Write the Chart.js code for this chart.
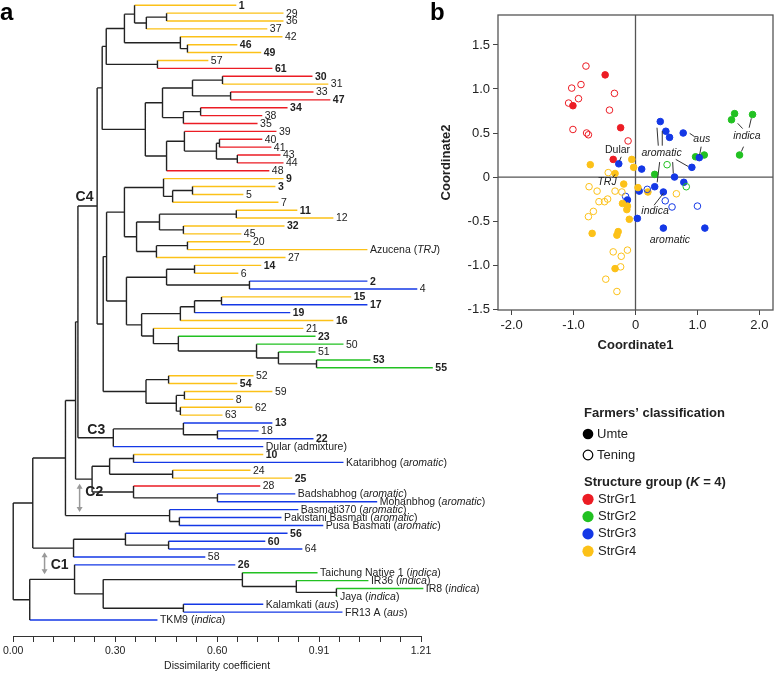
<!DOCTYPE html>
<html>
<head>
<meta charset="utf-8">
<script src="https://cdn.jsdelivr.net/npm/chart.js@4.4.0/dist/chart.umd.min.js"></script>
<style>
    html, body { margin: 0; padding: 0; background: #fff; }
    #wrap { position: relative; width: 778px; height: 674px; }
    #wrap canvas { position: absolute; left: 0; top: 0; }
</style>
</head>
<body>
<div id="wrap">
    <canvas id="tree" width="778" height="674"></canvas>
    <canvas id="pcoa" width="778" height="674"></canvas>
</div>
<script>
// ---- panel a: dendrogram leaves, top to bottom (*...* = italic) ----
var leafNames = ['1', '29', '36', '37', '42', '46', '49', '57', '61', '30', '31', '33', '47', '34', '38', '35',
    '39', '40', '41', '43', '44', '48', '9', '3', '5', '7', '11', '12', '32', '45', '20', 'Azucena (*TRJ*)', '27',
    '14', '6', '2', '4', '15', '17', '19', '16', '21', '23', '50', '51', '53', '55', '52', '54', '59', '8', '62',
    '63', '13', '18', '22', 'Dular (admixture)', '10', 'Kataribhog (*aromatic*)', '24', '25', '28',
    'Badshabhog (*aromatic*)', 'Mohanbhog (*aromatic*)', 'Basmati370 (*aromatic*)', 'Pakistani Basmati (*aromatic*)',
    'Pusa Basmati (*aromatic*)', '56', '60', '64', '58', '26', 'Taichung Native 1 (*indica*)', 'IR36 (*indica*)',
    'IR8 (*indica*)', 'Jaya (*indica*)', 'Kalamkati (*aus*)', 'FR13 A (*aus*)', 'TKM9 (*indica*)'];

// structure group of each leaf (1..4)
var leafGroup = [4, 4, 4, 4, 4, 4, 4, 4, 1, 1, 4, 1, 1, 1, 1, 1, 1, 1, 1, 1, 1, 1,
    4, 4, 4, 4, 4, 4, 4, 4, 4, 4, 4, 4, 4, 3, 3, 4, 3, 3, 4, 4, 2, 2, 2, 2, 2,
    4, 4, 4, 4, 4, 4, 3, 3, 3, 3, 4, 3, 4, 4, 1, 3, 3, 3, 3, 3, 3, 3, 3, 3, 3, 2, 2, 2, 2, 3, 3, 3];

// dissimilarity at the tip of each leaf branch
var leafTip = [0.662, 0.802, 0.802, 0.754, 0.799, 0.665, 0.736, 0.579, 0.769, 0.888, 0.935, 0.891, 0.941,
    0.814, 0.739, 0.725, 0.781, 0.739, 0.766, 0.793, 0.802, 0.760, 0.802, 0.778, 0.683, 0.787, 0.843, 0.950,
    0.805, 0.677, 0.704, 1.051, 0.808, 0.736, 0.668, 1.051, 1.199, 1.003, 1.051, 0.822, 0.950, 0.861, 0.897,
    0.980, 0.897, 1.060, 1.245, 0.713, 0.665, 0.769, 0.653, 0.710, 0.621, 0.769, 0.728, 0.891, 0.742, 0.742,
    0.980, 0.704, 0.828, 0.733, 0.837, 1.080, 0.846, 0.796, 0.920, 0.814, 0.748, 0.858, 0.570, 0.659, 0.903,
    1.054, 1.217, 0.962, 0.742, 0.977, 0.428];

// accessions shown in bold (Umte)
var umteLeaves = ['1', '46', '49', '61', '30', '47', '34', '9', '3', '11', '32', '14', '2', '15', '17', '19', '16',
    '23', '53', '55', '54', '13', '22', '10', '25', '56', '60', '26'];

// merges: [child, child, dissimilarity]; numbers are leaves, 'mK' is merge K
var merges = [
    [1, 2, 0.455], ['m0', 3, 0.395], [0, 'm1', 0.360], [5, 6, 0.517], [4, 'm3', 0.496],
    ['m2', 'm4', 0.330], [7, 8, 0.428], ['m5', 'm6', 0.276], [9, 10, 0.621], [11, 12, 0.645],
    ['m8', 'm9', 0.532], [13, 14, 0.556], ['m11', 15, 0.505], ['m10', 'm12', 0.443], [17, 18, 0.612],
    [19, 20, 0.665], ['m14', 'm15', 0.603], [16, 'm16', 0.508], ['m17', 21, 0.455], ['m13', 'm18', 0.392],
    ['m7', 'm19', 0.264], [23, 24, 0.532], ['m21', 25, 0.473], [22, 'm22', 0.446], [26, 27, 0.662],
    [28, 29, 0.505], ['m24', 'm25', 0.434], [30, 31, 0.517], ['m27', 32, 0.425], ['m26', 'm28', 0.366],
    ['m23', 'm29', 0.330], [33, 34, 0.538], [35, 36, 0.701], ['m31', 'm32', 0.455], [37, 38, 0.618],
    ['m34', 39, 0.538], ['m35', 40, 0.496], [45, 46, 0.900], [44, 'm37', 0.787], [43, 'm38', 0.722],
    [42, 'm39', 0.490], [41, 'm40', 0.416], ['m36', 'm41', 0.381], ['m33', 'm42', 0.336], ['m30', 'm43', 0.277],
    [47, 48, 0.461], [49, 50, 0.508], [51, 52, 0.496], ['m46', 'm47', 0.484], ['m45', 'm48', 0.394],
    ['m44', 'm49', 0.267], ['m20', 'm50', 0.249], [54, 55, 0.606], [53, 'm52', 0.505], ['m53', 56, 0.297],
    ['m51', 'm54', 0.192], [57, 58, 0.357], [59, 60, 0.473], ['m56', 'm57', 0.286], [62, 63, 0.606],
    [61, 'm59', 0.357], ['m58', 'm60', 0.234], ['m55', 'm61', 0.185], [65, 66, 0.493], [64, 'm63', 0.464],
    ['m62', 'm64', 0.155], [68, 69, 0.461], [67, 'm66', 0.333], ['m67', 70, 0.179], ['m65', 'm68', 0.058],
    [74, 75, 0.959], [73, 'm70', 0.840], [72, 'm71', 0.680], [76, 77, 0.505], ['m72', 'm73', 0.267],
    [71, 'm74', 0.182], ['m75', 78, 0.049], ['m69', 'm76', 0.000]
];

var dissTicks = [0, 0.0605, 0.121, 0.1815, 0.242, 0.3025, 0.363, 0.4235, 0.484, 0.5445, 0.605, 0.6655,
    0.726, 0.7865, 0.847, 0.9075, 0.968, 1.0285, 1.089, 1.1495, 1.21];
var dissLabels = ['0.00', '0.30', '0.60', '0.91', '1.21'];

// clade labels and arrows [text, dissimilarity, leaf position]
var cladeLabels = [['C4', 0.185, 24.3], ['C3', 0.220, 53.9], ['C2', 0.214, 61.8], ['C1', 0.111, 71.0]];
var cladeArrows = [[0.197, 60.7, 64.3], [0.093, 69.4, 72.2]];

// ---- panel b: PCoA, [Coordinate1, Coordinate2] ----
var gr1Umte = [[-0.49, 1.16], [-1.01, 0.81], [-0.24, 0.56], [-0.36, 0.20]];
var gr1Tening = [[-0.80, 1.26], [-1.03, 1.01], [-0.88, 1.05], [-0.92, 0.89], [-0.34, 0.95], [-1.08, 0.84],
    [-0.42, 0.76], [-1.01, 0.54], [-0.79, 0.50], [-0.76, 0.48], [-0.12, 0.41]];
var gr2Umte = [[0.97, 0.23], [1.11, 0.25], [0.31, 0.03], [1.60, 0.72], [1.55, 0.65], [1.89, 0.71], [1.68, 0.25]];
var gr2Tening = [[0.51, 0.14], [0.82, -0.11]];
var gr3Umte = [[-0.27, 0.15], [0.10, 0.09], [0.40, 0.63], [0.49, 0.52], [0.55, 0.45], [0.77, 0.50], [1.03, 0.22],
    [0.91, 0.11], [0.63, 0.0], [0.06, -0.16], [0.31, -0.11], [0.45, -0.17], [0.78, -0.06], [1.12, -0.58],
    [0.45, -0.58], [0.03, -0.47], [-0.13, -0.26]];
var gr3Tening = [[-0.16, -0.22], [0.19, -0.14], [0.48, -0.27], [0.59, -0.34], [1.00, -0.33]];
var gr4Umte = [[-0.73, 0.14], [-0.06, 0.20], [-0.03, 0.11], [-0.33, 0.04], [-0.19, -0.08], [0.04, -0.12],
    [0.20, -0.17], [-0.21, -0.30], [-0.13, -0.33], [-0.14, -0.37], [-0.10, -0.48], [-0.70, -0.64],
    [-0.28, -0.62], [-0.30, -0.66], [-0.33, -1.04]];
var gr4Tening = [[-0.44, 0.05], [-0.75, -0.11], [-0.62, -0.16], [-0.33, -0.16], [-0.22, -0.17], [0.66, -0.19],
    [-0.59, -0.28], [-0.50, -0.28], [-0.45, -0.25], [-0.68, -0.39], [-0.76, -0.45], [-0.13, -0.83],
    [-0.36, -0.85], [-0.23, -0.90], [-0.24, -1.02], [-0.48, -1.16], [-0.30, -1.30]];

var coordXTicks = [-2, -1, 0, 1, 2];
var coordXLabels = ['-2.0', '-1.0', '0', '1.0', '2.0'];
var coordYTicks = [-1.5, -1, -0.5, 0, 0.5, 1, 1.5];
var coordYLabels = ['-1.5', '-1.0', '-0.5', '0', '0.5', '1.0', '1.5'];

// annotations [text, x, y, italic] and leader lines [x1, y1, x2, y2]
var pcoaNotes = [['Dular', -0.29, 0.31, false], ['TRJ', -0.46, -0.06, true], ['aromatic', 0.42, 0.27, true],
    ['aus', 1.07, 0.43, true], ['indica', 1.80, 0.47, true], ['indica', 0.315, -0.39, true],
    ['aromatic', 0.555, -0.72, true]];
var pcoaLeaders = [[-0.23, 0.23, -0.26, 0.18], [-0.37, -0.01, -0.33, 0.03], [0.347, 0.56, 0.368, 0.356],
    [0.432, 0.523, 0.432, 0.356], [0.65, 0.20, 0.85, 0.12], [0.60, 0.17, 0.61, 0.04], [0.39, 0.17, 0.35, -0.06],
    [0.875, 0.496, 0.955, 0.458], [1.06, 0.345, 1.035, 0.25], [1.65, 0.61, 1.73, 0.55],
    [1.87, 0.667, 1.835, 0.56], [1.744, 0.345, 1.71, 0.29], [0.30, -0.32, 0.45, -0.185]];

var groupNames = ['StrGr1', 'StrGr2', 'StrGr3', 'StrGr4'];
var groupColors = ['#ec1c24', '#22c122', '#1438e6', '#fcc118'];

var FONT = '"Liberation Sans", Arial, Helvetica, sans-serif';
Chart.defaults.font.family = FONT;
Chart.defaults.color = '#222';

// text with *italic* pieces
function drawRich(c, text, x, y, size, bold, align) {
    var parts = text.split('*');
    var w = 0, k;
    if (align === 'center') {
        for (k = 0; k < parts.length; k++) {
            c.font = (k % 2 ? 'italic ' : '') + (bold ? 'bold ' : '') + size + 'px ' + FONT;
            w += c.measureText(parts[k]).width;
        }
        x -= w / 2;
    }
    c.textAlign = 'left';
    for (k = 0; k < parts.length; k++) {
        c.font = (k % 2 ? 'italic ' : '') + (bold ? 'bold ' : '') + size + 'px ' + FONT;
        c.fillText(parts[k], x, y);
        x += c.measureText(parts[k]).width;
    }
}

// build dendrogram segments from the merges
function childY(ch, nodeY) { return typeof ch === 'number' ? ch : nodeY[+ch.slice(1)]; }
function childX(ch) { return typeof ch === 'number' ? leafTip[ch] : merges[+ch.slice(1)][2]; }

var nodeY = [];
var segs = { black: [], g1: [], g2: [], g3: [], g4: [] };
merges.forEach(function (m, k) {
    var h = m[2];
    var ya = childY(m[0], nodeY), yb = childY(m[1], nodeY);
    nodeY[k] = (ya + yb) / 2;
    segs.black.push({ x: h, y: ya }, { x: h, y: yb }, { x: null, y: null });
    [m[0], m[1]].forEach(function (ch) {
        var y = childY(ch, nodeY);
        var key = typeof ch === 'number' ? 'g' + leafGroup[ch] : 'black';
        segs[key].push({ x: h, y: y }, { x: childX(ch), y: y }, { x: null, y: null });
    });
});

function segSet(key, color) {
    return {
        data: segs[key], showLine: true, borderColor: color, borderWidth: 1.4,
        pointRadius: 0, spanGaps: false, clip: false
    };
}

var treeText = {
    id: 'treeText',
    afterDatasetsDraw: function (chart) {
        var c = chart.ctx, xs = chart.scales.x, ys = chart.scales.y;
        c.save();
        c.fillStyle = '#222';
        c.textBaseline = 'middle';
        leafNames.forEach(function (name, i) {
            drawRich(c, name, xs.getPixelForValue(leafTip[i]) + 2.5, ys.getPixelForValue(i) + 0.5, 10.5,
                umteLeaves.indexOf(name) >= 0);
        });
        cladeLabels.forEach(function (l) {
            c.font = 'bold 14px ' + FONT;
            c.fillText(l[0], xs.getPixelForValue(l[1]), ys.getPixelForValue(l[2]));
        });
        // grey double arrows
        c.strokeStyle = '#999';
        c.fillStyle = '#999';
        c.lineWidth = 1.5;
        cladeArrows.forEach(function (a) {
            var x = xs.getPixelForValue(a[0]), y1 = ys.getPixelForValue(a[1]), y2 = ys.getPixelForValue(a[2]);
            c.beginPath(); c.moveTo(x, y1 + 3); c.lineTo(x, y2 - 3); c.stroke();
            c.beginPath(); c.moveTo(x, y1); c.lineTo(x - 3, y1 + 5); c.lineTo(x + 3, y1 + 5); c.fill();
            c.beginPath(); c.moveTo(x, y2); c.lineTo(x - 3, y2 - 5); c.lineTo(x + 3, y2 - 5); c.fill();
        });
        c.fillStyle = '#000';
        c.font = 'bold 24px ' + FONT;
        c.textBaseline = 'alphabetic';
        c.fillText('a', 0, 20);
        c.restore();
    }
};

new Chart(document.getElementById('tree').getContext('2d'), {
    type: 'scatter',
    data: {
        datasets: [segSet('black', '#222'), segSet('g1', groupColors[0]), segSet('g2', groupColors[1]),
            segSet('g3', groupColors[2]), segSet('g4', groupColors[3])]
    },
    options: {
        responsive: false, animation: false, events: [],
        layout: { padding: { left: 13, right: 357, top: 0, bottom: 0 } },
        plugins: { legend: { display: false }, tooltip: { enabled: false } },
        scales: {
            x: {
                type: 'linear', min: 0, max: 1.21,
                afterBuildTicks: function (s) { s.ticks = dissTicks.map(function (v) { return { value: v }; }); },
                afterFit: function (s) { s.height = 38; },
                ticks: {
                    autoSkip: false, maxRotation: 0, padding: 3, color: '#222', font: { size: 10.5 },
                    callback: function (v, i) { return i % 5 === 0 ? dissLabels[i / 5] : ''; }
                },
                grid: { display: true, drawOnChartArea: false, drawTicks: true, tickLength: 6, color: '#333' },
                border: { display: true, color: '#333', width: 1 },
                title: { display: true, text: 'Dissimilarity coefficient', color: '#222', font: { size: 10.5 },
                    padding: { top: 0, bottom: 2 } }
            },
            y: { type: 'linear', display: false, reverse: true, min: -0.67, max: 80.03 }
        }
    },
    plugins: [treeText]
});

// ---- panel b ----
function pts(arr) { return arr.map(function (p) { return { x: p[0], y: p[1] }; }); }
function pcoaSet(arr, g, filled) {
    return {
        data: pts(arr), pointRadius: 3.3, pointBorderWidth: 1,
        pointBackgroundColor: filled ? groupColors[g] : 'rgba(255,255,255,0)',
        pointBorderColor: groupColors[g]
    };
}

var pcoaDraw = {
    id: 'pcoaDraw',
    beforeDatasetsDraw: function (chart) {
        var c = chart.ctx, a = chart.chartArea, xs = chart.scales.x, ys = chart.scales.y;
        c.save();
        c.strokeStyle = '#555';
        c.lineWidth = 1.3;
        c.strokeRect(a.left, a.top, a.right - a.left, a.bottom - a.top);
        var x0 = xs.getPixelForValue(0), y0 = ys.getPixelForValue(0);
        c.beginPath();
        c.moveTo(x0, a.top); c.lineTo(x0, a.bottom);
        c.moveTo(a.left, y0); c.lineTo(a.right, y0);
        c.stroke();
        c.restore();
    },
    afterDatasetsDraw: function (chart) {
        var c = chart.ctx, xs = chart.scales.x, ys = chart.scales.y;
        c.save();
        c.strokeStyle = '#333';
        c.lineWidth = 1;
        pcoaLeaders.forEach(function (l) {
            c.beginPath();
            c.moveTo(xs.getPixelForValue(l[0]), ys.getPixelForValue(l[1]));
            c.lineTo(xs.getPixelForValue(l[2]), ys.getPixelForValue(l[3]));
            c.stroke();
        });
        c.fillStyle = '#222';
        c.textBaseline = 'middle';
        pcoaNotes.forEach(function (n) {
            drawRich(c, n[3] ? '*' + n[0] + '*' : n[0], xs.getPixelForValue(n[1]), ys.getPixelForValue(n[2]),
                10.5, false, 'center');
        });

        // legends
        drawRich(c, 'Farmers\u2019 classification', 584, 413, 13, true);
        c.fillStyle = '#000';
        c.beginPath(); c.arc(588, 434, 5.3, 0, 2 * Math.PI); c.fill();
        c.strokeStyle = '#000'; c.lineWidth = 1.2;
        c.beginPath(); c.arc(588, 455, 4.8, 0, 2 * Math.PI); c.stroke();
        c.fillStyle = '#222';
        drawRich(c, 'Umte', 597, 434, 13, false);
        drawRich(c, 'Tening', 597, 455, 13, false);
        drawRich(c, 'Structure group (*K* = 4)', 584, 482, 13, true);
        groupNames.forEach(function (name, g) {
            var y = 499.3 + g * 17.3;
            c.fillStyle = groupColors[g];
            c.beginPath(); c.arc(588, y, 5.6, 0, 2 * Math.PI); c.fill();
            c.fillStyle = '#222';
            drawRich(c, name, 598, y, 13, false);
        });

        c.fillStyle = '#000';
        c.font = 'bold 24px ' + FONT;
        c.textBaseline = 'alphabetic';
        c.fillText('b', 430, 20);
        c.restore();
    }
};

new Chart(document.getElementById('pcoa').getContext('2d'), {
    type: 'scatter',
    data: {
        datasets: [pcoaSet(gr4Tening, 3, false), pcoaSet(gr3Tening, 2, false), pcoaSet(gr2Tening, 1, false),
            pcoaSet(gr1Tening, 0, false), pcoaSet(gr4Umte, 3, true), pcoaSet(gr3Umte, 2, true),
            pcoaSet(gr2Umte, 1, true), pcoaSet(gr1Umte, 0, true)]
    },
    options: {
        responsive: false, animation: false, events: [],
        layout: { padding: { left: 430, right: 2, top: 15, bottom: 319 } },
        plugins: { legend: { display: false }, tooltip: { enabled: false } },
        scales: {
            x: {
                type: 'linear', min: -2.22, max: 2.22,
                afterBuildTicks: function (s) { s.ticks = coordXTicks.map(function (v) { return { value: v }; }); },
                afterFit: function (s) { s.height = 45; },
                ticks: {
                    autoSkip: false, maxRotation: 0, padding: 3, color: '#222', font: { size: 13 },
                    callback: function (v, i) { return coordXLabels[i]; }
                },
                grid: { display: true, drawOnChartArea: false, drawTicks: true, tickLength: 5, color: '#444' },
                border: { display: false },
                title: { display: true, text: 'Coordinate1', color: '#222', font: { size: 13, weight: 'bold' },
                    padding: { top: 0, bottom: 2 } }
            },
            y: {
                type: 'linear', min: -1.51, max: 1.84,
                afterBuildTicks: function (s) { s.ticks = coordYTicks.map(function (v) { return { value: v }; }); },
                afterFit: function (s) { s.width = 68; },
                ticks: {
                    autoSkip: false, padding: 3, color: '#222', font: { size: 13 },
                    callback: function (v, i) { return coordYLabels[i]; }
                },
                grid: { display: true, drawOnChartArea: false, drawTicks: true, tickLength: 5, color: '#444' },
                border: { display: false },
                title: { display: true, text: 'Coordinate2', color: '#222', font: { size: 13, weight: 'bold' },
                    padding: { top: 9, bottom: 0 } }
            }
        }
    },
    plugins: [pcoaDraw]
});
</script>
</body>
</html>
